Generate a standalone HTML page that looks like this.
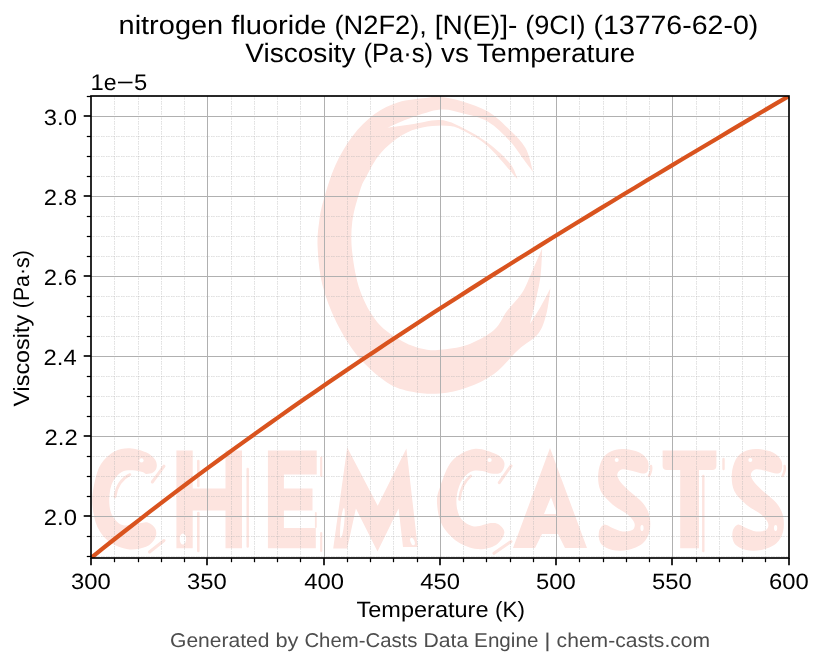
<!DOCTYPE html>
<html><head><meta charset="utf-8"><style>
html,body{margin:0;padding:0;background:#fff;}
svg{display:block;will-change:transform;text-rendering:geometricPrecision;}
</style></head><body>
<svg width="823" height="666" viewBox="0 0 823 666">
<rect width="823" height="666" fill="#fff"/>
<filter id="wmb" x="-5%" y="-5%" width="110%" height="110%"><feGaussianBlur stdDeviation="0.6"/></filter>
<g filter="url(#wmb)">
<g fill="#fde4df">
<path d="M533.1,172.0 C531.8,168.0 529.4,154.9 525.5,148.0 C521.6,141.1 516.2,136.4 510.0,130.3 C503.8,124.2 495.9,116.4 488.0,111.6 C480.1,106.8 470.4,103.8 462.5,101.4 C454.6,99.0 446.5,97.7 440.4,97.1 C434.3,96.5 432.7,97.2 425.7,98.0 C418.7,98.8 407.0,99.5 398.5,102.2 C390.0,104.9 382.3,108.4 374.6,114.1 C366.9,119.8 359.0,127.7 352.5,136.2 C346.0,144.7 340.3,154.5 335.5,165.1 C330.7,175.7 326.3,190.6 323.6,200.0 C320.9,209.4 320.2,213.7 319.2,221.5 C318.2,229.3 317.1,236.3 317.6,246.8 C318.1,257.3 319.2,272.0 322.3,284.6 C325.4,297.2 330.4,310.3 336.5,322.4 C342.6,334.5 350.2,347.1 358.6,357.1 C367.0,367.1 378.1,376.6 387.0,382.4 C395.9,388.2 403.4,389.9 412.2,391.8 C421.0,393.7 430.9,394.2 440.0,393.5 C449.1,392.8 458.0,390.9 467.0,387.6 C476.0,384.4 485.4,380.3 494.0,374.0 C502.6,367.7 511.1,356.4 518.4,349.7 C525.7,343.0 533.4,339.9 538.0,334.0 C542.6,328.1 544.2,322.0 546.3,314.3 C548.4,306.6 549.8,292.4 550.5,288.0 C548.9,291.0 544.5,299.9 541.0,306.0 C537.5,312.1 531.7,321.2 529.8,324.3 C530.6,321.0 533.0,312.4 534.8,304.4 C536.6,296.4 539.3,285.7 540.5,276.3 C541.7,266.9 541.9,252.9 542.2,248.2 C540.3,252.5 534.4,266.5 531.0,274.0 C527.6,281.5 526.0,286.8 522.0,293.0 C518.0,299.2 511.7,304.8 507.0,311.0 C502.3,317.2 500.7,324.3 494.0,330.0 C487.3,335.7 476.0,341.7 467.0,345.0 C458.0,348.3 447.0,349.0 440.0,349.7 C433.0,350.4 431.0,350.7 424.8,349.3 C418.6,347.9 410.7,345.9 402.8,341.4 C394.9,336.9 384.6,330.8 377.5,322.4 C370.4,314.0 364.4,302.6 360.2,291.0 C356.0,279.4 353.6,264.7 352.3,253.1 C351.0,241.5 351.0,232.0 352.3,221.5 C353.6,211.0 357.9,197.4 360.2,190.0 C362.5,182.6 363.1,182.6 366.1,177.0 C369.1,171.4 373.5,162.5 378.0,156.6 C382.5,150.7 387.6,145.7 393.3,141.3 C399.0,136.9 405.5,132.9 412.0,130.3 C418.5,127.8 426.2,126.7 432.5,126.0 C438.8,125.3 445.0,125.3 450.0,126.0 C455.0,126.7 456.2,126.9 462.5,130.3 C468.8,133.7 478.8,138.2 488.0,146.4 C497.2,154.6 512.8,174.1 517.8,179.6 C516.5,176.9 515.0,169.5 510.0,163.4 C505.0,157.3 495.9,148.9 488.0,143.0 C480.1,137.1 470.4,131.5 462.5,127.7 C454.6,123.9 448.8,120.7 440.4,120.1 C432.0,119.5 420.8,123.0 412.0,124.3 C403.2,125.6 391.5,127.1 387.4,127.7 C391.5,126.0 403.2,120.5 412.0,117.5 C420.8,114.5 432.0,110.2 440.4,109.5 C448.8,108.8 454.6,111.2 462.5,113.3 C470.4,115.3 480.1,117.1 488.0,121.8 C495.9,126.5 503.8,134.6 510.0,141.3 C516.2,148.0 521.6,156.9 525.5,162.0 C529.4,167.1 531.8,170.3 533.1,172.0 Z"/>
</g>
<g fill="#fde4df">
<path d="M146.0,473.9 C147.8,474.0 151.2,473.6 153.0,472.5 C154.8,471.4 156.4,469.2 156.7,467.0 C157.0,464.8 156.8,461.9 155.0,459.5 C153.2,457.1 150.2,454.2 146.0,452.3 C141.8,450.4 135.1,448.4 129.8,448.2 C124.6,448.0 119.3,448.8 114.5,451.4 C109.7,454.0 104.3,458.9 101.0,464.0 C97.7,469.1 96.2,475.4 94.7,482.0 C93.2,488.6 91.8,496.1 92.3,503.6 C92.8,511.1 94.5,520.5 97.4,527.0 C100.4,533.5 104.9,538.6 110.0,542.3 C115.1,546.0 122.0,548.5 128.0,549.3 C134.0,550.0 141.5,548.6 146.0,546.8 C150.5,545.0 153.4,541.5 155.0,538.5 C156.6,535.5 156.7,531.7 155.5,529.0 C154.3,526.3 150.6,523.4 147.8,522.5 C145.0,521.6 142.9,522.9 138.8,523.4 C134.8,523.9 127.5,526.0 123.5,525.2 C119.5,524.5 116.8,521.6 114.5,518.9 C112.2,516.2 110.8,513.0 110.0,509.0 C109.2,505.0 109.0,499.5 109.5,495.0 C110.0,490.5 110.7,485.8 112.7,482.0 C114.7,478.2 118.4,473.9 121.7,472.0 C125.0,470.1 129.1,470.3 132.5,470.3 C135.9,470.3 140.2,471.5 142.4,472.1 C144.7,472.7 144.2,473.8 146.0,473.9Z"/>
<path d="M474.0,449.0 C466.7,450.1 457.8,454.6 452.2,460.8 C446.6,467.0 442.9,479.0 440.4,486.0 C437.9,493.0 436.7,496.4 437.0,502.9 C437.3,509.3 438.6,518.3 442.0,524.7 C445.4,531.1 451.3,537.4 457.2,541.5 C463.1,545.6 470.9,548.5 477.4,549.1 C483.9,549.7 491.5,547.6 496.0,544.9 C500.5,542.2 503.8,536.5 504.3,533.1 C504.9,529.7 501.5,526.4 499.3,524.7 C497.1,523.0 495.1,522.7 490.9,523.0 C486.7,523.3 479.1,527.2 474.0,526.4 C468.9,525.6 463.5,522.2 460.6,518.0 C457.7,513.8 456.4,507.1 456.4,501.2 C456.4,495.3 458.2,487.6 460.6,482.7 C463.0,477.8 467.1,473.8 470.7,471.8 C474.3,469.8 479.1,470.6 482.5,470.9 C485.9,471.2 487.8,473.1 490.9,473.4 C494.0,473.7 498.8,474.4 501.0,472.6 C503.2,470.8 505.2,465.6 504.3,462.5 C503.4,459.4 500.9,456.4 495.9,454.1 C490.8,451.9 481.3,447.9 474.0,449.0Z"/>
<path d="M622.6,449.0 C627.4,449.1 635.2,450.4 639.4,452.4 C643.6,454.4 646.4,457.7 647.8,460.8 C649.2,463.9 648.6,468.8 647.8,470.9 C647.0,473.0 645.3,473.4 642.8,473.4 C640.3,473.4 636.1,471.6 632.7,470.9 C629.3,470.2 625.1,468.8 622.6,469.2 C620.1,469.6 618.1,471.6 617.5,473.4 C616.9,475.2 617.5,477.5 619.2,480.2 C620.9,482.9 623.7,485.6 627.6,489.4 C631.5,493.2 639.1,498.4 642.8,502.9 C646.4,507.4 648.4,511.5 649.5,516.3 C650.6,521.1 650.6,527.0 649.5,531.5 C648.4,536.0 646.4,540.1 642.8,543.2 C639.1,546.3 632.6,548.9 627.6,550.0 C622.6,551.1 617.0,551.1 612.5,550.0 C608.0,548.9 603.0,546.3 600.7,543.2 C598.5,540.1 598.4,534.6 599.0,531.5 C599.6,528.4 601.9,525.3 604.1,524.7 C606.4,524.1 609.4,527.0 612.5,528.1 C615.6,529.2 619.2,531.2 622.6,531.5 C626.0,531.8 630.7,531.2 632.7,529.8 C634.7,528.4 635.2,525.5 634.4,523.0 C633.5,520.5 631.2,517.7 627.6,514.6 C624.0,511.5 617.0,508.4 612.5,504.5 C608.0,500.6 603.1,496.1 600.7,491.1 C598.3,486.1 597.9,479.6 598.2,474.3 C598.5,469.0 600.3,462.9 602.4,459.1 C604.5,455.3 607.4,453.3 610.8,451.6 C614.2,449.9 617.8,448.9 622.6,449.0Z"/>
<path d="M756.2,449.0 C761.0,449.1 768.8,450.4 773.0,452.4 C777.2,454.4 780.0,457.7 781.4,460.8 C782.8,463.9 782.2,468.8 781.4,470.9 C780.6,473.0 778.9,473.4 776.4,473.4 C773.9,473.4 769.7,471.6 766.3,470.9 C762.9,470.2 758.7,468.8 756.2,469.2 C753.7,469.6 751.7,471.6 751.1,473.4 C750.5,475.2 751.1,477.5 752.8,480.2 C754.5,482.9 757.3,485.6 761.2,489.4 C765.1,493.2 772.8,498.4 776.4,502.9 C780.0,507.4 782.0,511.5 783.1,516.3 C784.2,521.1 784.2,527.0 783.1,531.5 C782.0,536.0 780.0,540.1 776.4,543.2 C772.8,546.3 766.2,548.9 761.2,550.0 C756.2,551.1 750.6,551.1 746.1,550.0 C741.6,548.9 736.6,546.3 734.3,543.2 C732.1,540.1 732.0,534.6 732.6,531.5 C733.2,528.4 735.5,525.3 737.7,524.7 C740.0,524.1 743.0,527.0 746.1,528.1 C749.2,529.2 752.8,531.2 756.2,531.5 C759.6,531.8 764.3,531.2 766.3,529.8 C768.3,528.4 768.9,525.5 768.0,523.0 C767.1,520.5 764.9,517.7 761.2,514.6 C757.6,511.5 750.6,508.4 746.1,504.5 C741.6,500.6 736.7,496.1 734.3,491.1 C731.9,486.1 731.5,479.6 731.8,474.3 C732.1,469.0 733.9,462.9 736.0,459.1 C738.1,455.3 741.0,453.3 744.4,451.6 C747.8,449.9 751.4,448.9 756.2,449.0Z"/>
</g>
<g fill="#fde4df">
<path d="M176.4,450.4 H192.7 V488.6 H225.5 V450.4 H242 V548.3 H225.5 V510.4 H192.7 V548.3 H176.4 Z"/>
<path d="M267.9,450.4 H316.7 V474.5 H283.9 V488.6 H312.5 V510.4 H283.9 V528 H315.8 V548.3 H267.9 Z"/>
<path d="M333.2,548.5 L347.2,447.5 L377.7,505.8 L406.4,448.4 L417.7,547 L403,547 L398.6,508.5 L377.5,551.5 L355.9,508.5 L347.2,548.5 Z"/>
<path fill-rule="evenodd" d="M513,548 L550,448 L587,548 L565,548 L558,534 L542,534 L535,548 Z M551,497 L544,514 L557,514 Z"/>
<path d="M662.6,450.4 H716.4 V466 Q716.4,470.1 712,470.1 H699 V548.3 H680.2 V470.1 H667 Q662.6,470.1 662.6,466 Z"/>
</g>
<g fill="none" stroke="#fde4df" stroke-linecap="round">
<path d="M198.3,461 V486" stroke-width="2.6"/>
<path d="M198.3,513 V551" stroke-width="2.6"/>
<path d="M247.7,469 V546.6" stroke-width="2.4"/>
<path d="M703.3,476 V551" stroke-width="2.4"/>
<path d="M723.5,459 V469" stroke-width="2.4"/>
<path d="M321.2,457.5 V476" stroke-width="2.2"/>
<path d="M315.8,513 V527" stroke-width="1.8"/>
<path d="M321.2,533 V551" stroke-width="2.2"/>
<path d="M152.3,482 L164,466.2" stroke-width="3"/>
<path d="M149.5,552 L164,540.5" stroke-width="3"/>
<path d="M499.3,482.7 L511,465.9" stroke-width="3"/>
<path d="M494,553.3 L511,541.5" stroke-width="3"/>
<path d="M115,497 Q117,481 130,474.5" stroke-width="2.6"/>
<path d="M459.5,499.5 Q461,484 470.7,476" stroke-width="2.6"/>
<path d="M649,476 Q652,470 651,466" stroke-width="2.5"/>
<path d="M782.6,476 Q785.6,470 784.6,466" stroke-width="2.5"/>
</g>
<g fill="#fff">
<circle cx="141.5" cy="460.4" r="2.1"/>
<circle cx="489.6" cy="460" r="2.1"/>
<ellipse cx="182.9" cy="539" rx="3.2" ry="5.5"/>
<ellipse cx="342.4" cy="523" rx="1.8" ry="15" transform="rotate(6 342.4 523)"/>
<ellipse cx="412.5" cy="541.5" rx="2" ry="4" transform="rotate(-20 412.5 541.5)"/>
<circle cx="616.7" cy="460" r="2"/>
<circle cx="750.3" cy="460" r="2"/>
<ellipse cx="642" cy="528" rx="1.6" ry="3"/>
<ellipse cx="775.6" cy="528" rx="1.6" ry="3"/>
</g>
</g>
<g stroke="#b0b0b0" stroke-opacity="0.4" stroke-width="1" stroke-dasharray="1.5 0.7 1.5 1.3" fill="none">
<line x1="114.5" y1="96" x2="114.5" y2="558"/>
<line x1="138.5" y1="96" x2="138.5" y2="558"/>
<line x1="161.5" y1="96" x2="161.5" y2="558"/>
<line x1="184.5" y1="96" x2="184.5" y2="558"/>
<line x1="231.5" y1="96" x2="231.5" y2="558"/>
<line x1="254.5" y1="96" x2="254.5" y2="558"/>
<line x1="277.5" y1="96" x2="277.5" y2="558"/>
<line x1="300.5" y1="96" x2="300.5" y2="558"/>
<line x1="347.5" y1="96" x2="347.5" y2="558"/>
<line x1="370.5" y1="96" x2="370.5" y2="558"/>
<line x1="393.5" y1="96" x2="393.5" y2="558"/>
<line x1="417.5" y1="96" x2="417.5" y2="558"/>
<line x1="463.5" y1="96" x2="463.5" y2="558"/>
<line x1="486.5" y1="96" x2="486.5" y2="558"/>
<line x1="510.5" y1="96" x2="510.5" y2="558"/>
<line x1="533.5" y1="96" x2="533.5" y2="558"/>
<line x1="579.5" y1="96" x2="579.5" y2="558"/>
<line x1="603.5" y1="96" x2="603.5" y2="558"/>
<line x1="626.5" y1="96" x2="626.5" y2="558"/>
<line x1="649.5" y1="96" x2="649.5" y2="558"/>
<line x1="696.5" y1="96" x2="696.5" y2="558"/>
<line x1="719.5" y1="96" x2="719.5" y2="558"/>
<line x1="742.5" y1="96" x2="742.5" y2="558"/>
<line x1="765.5" y1="96" x2="765.5" y2="558"/>
<line x1="91" y1="556.5" x2="789" y2="556.5"/>
<line x1="91" y1="536.5" x2="789" y2="536.5"/>
<line x1="91" y1="496.50000000000006" x2="789" y2="496.50000000000006"/>
<line x1="91" y1="476.49999999999994" x2="789" y2="476.49999999999994"/>
<line x1="91" y1="456.50000000000006" x2="789" y2="456.50000000000006"/>
<line x1="91" y1="416.5" x2="789" y2="416.5"/>
<line x1="91" y1="396.50000000000006" x2="789" y2="396.50000000000006"/>
<line x1="91" y1="376.49999999999994" x2="789" y2="376.49999999999994"/>
<line x1="91" y1="336.49999999999994" x2="789" y2="336.49999999999994"/>
<line x1="91" y1="316.5" x2="789" y2="316.5"/>
<line x1="91" y1="296.50000000000006" x2="789" y2="296.50000000000006"/>
<line x1="91" y1="256.5" x2="789" y2="256.5"/>
<line x1="91" y1="236.49999999999994" x2="789" y2="236.49999999999994"/>
<line x1="91" y1="216.5" x2="789" y2="216.5"/>
<line x1="91" y1="176.49999999999997" x2="789" y2="176.49999999999997"/>
<line x1="91" y1="156.50000000000003" x2="789" y2="156.50000000000003"/>
<line x1="91" y1="136.49999999999994" x2="789" y2="136.49999999999994"/>
<line x1="91" y1="96.50000000000007" x2="789" y2="96.50000000000007"/>
</g>
<g stroke="#b0b0b0" stroke-width="1" fill="none">
<line x1="207.5" y1="96" x2="207.5" y2="558"/>
<line x1="324.5" y1="96" x2="324.5" y2="558"/>
<line x1="440.5" y1="96" x2="440.5" y2="558"/>
<line x1="556.5" y1="96" x2="556.5" y2="558"/>
<line x1="672.5" y1="96" x2="672.5" y2="558"/>
<line x1="91" y1="116.5" x2="789" y2="116.5"/>
<line x1="91" y1="196.5" x2="789" y2="196.5"/>
<line x1="91" y1="276.5" x2="789" y2="276.5"/>
<line x1="91" y1="356.5" x2="789" y2="356.5"/>
<line x1="91" y1="436.5" x2="789" y2="436.5"/>
<line x1="91" y1="516.5" x2="789" y2="516.5"/>
</g>
<clipPath id="ax"><rect x="91" y="96" width="698" height="462"/></clipPath>
<path clip-path="url(#ax)" d="M91.00,558.00 L102.83,548.39 L114.66,539.02 L126.49,529.74 L138.32,520.54 L150.15,511.42 L161.98,502.37 L173.81,493.40 L185.64,484.50 L197.47,475.68 L209.31,466.93 L221.14,458.25 L232.97,449.64 L244.80,441.09 L256.63,432.61 L268.46,424.20 L280.29,415.85 L292.12,407.56 L303.95,399.33 L315.78,391.16 L327.61,383.04 L339.44,374.98 L351.27,366.98 L363.10,359.03 L374.93,351.13 L386.76,343.28 L398.59,335.48 L410.42,327.72 L422.25,320.02 L434.08,312.35 L445.92,304.73 L457.75,297.15 L469.58,289.61 L481.41,282.11 L493.24,274.64 L505.07,267.22 L516.90,259.82 L528.73,252.46 L540.56,245.13 L552.39,237.83 L564.22,230.55 L576.05,223.31 L587.88,216.09 L599.71,208.89 L611.54,201.72 L623.37,194.57 L635.20,187.43 L647.03,180.32 L658.86,173.22 L670.69,166.14 L682.53,159.07 L694.36,152.02 L706.19,144.98 L718.02,137.94 L729.85,130.92 L741.68,123.90 L753.51,116.88 L765.34,109.87 L777.17,102.87 L789.00,96.00" fill="none" stroke="#d9531e" stroke-width="4.2" stroke-linecap="butt" stroke-linejoin="round"/>
<rect x="91" y="96" width="698" height="462" fill="none" stroke="#000" stroke-width="1.67"/>
<g stroke="#000" fill="none">
<line x1="91" y1="558" x2="91" y2="565.3" stroke-width="1.67"/>
<line x1="207" y1="558" x2="207" y2="565.3" stroke-width="1.67"/>
<line x1="324" y1="558" x2="324" y2="565.3" stroke-width="1.67"/>
<line x1="440" y1="558" x2="440" y2="565.3" stroke-width="1.67"/>
<line x1="556" y1="558" x2="556" y2="565.3" stroke-width="1.67"/>
<line x1="672" y1="558" x2="672" y2="565.3" stroke-width="1.67"/>
<line x1="789" y1="558" x2="789" y2="565.3" stroke-width="1.67"/>
<line x1="114.5" y1="558" x2="114.5" y2="562.2" stroke-width="1.25"/>
<line x1="138.5" y1="558" x2="138.5" y2="562.2" stroke-width="1.25"/>
<line x1="161.5" y1="558" x2="161.5" y2="562.2" stroke-width="1.25"/>
<line x1="184.5" y1="558" x2="184.5" y2="562.2" stroke-width="1.25"/>
<line x1="231.5" y1="558" x2="231.5" y2="562.2" stroke-width="1.25"/>
<line x1="254.5" y1="558" x2="254.5" y2="562.2" stroke-width="1.25"/>
<line x1="277.5" y1="558" x2="277.5" y2="562.2" stroke-width="1.25"/>
<line x1="300.5" y1="558" x2="300.5" y2="562.2" stroke-width="1.25"/>
<line x1="347.5" y1="558" x2="347.5" y2="562.2" stroke-width="1.25"/>
<line x1="370.5" y1="558" x2="370.5" y2="562.2" stroke-width="1.25"/>
<line x1="393.5" y1="558" x2="393.5" y2="562.2" stroke-width="1.25"/>
<line x1="417.5" y1="558" x2="417.5" y2="562.2" stroke-width="1.25"/>
<line x1="463.5" y1="558" x2="463.5" y2="562.2" stroke-width="1.25"/>
<line x1="486.5" y1="558" x2="486.5" y2="562.2" stroke-width="1.25"/>
<line x1="510.5" y1="558" x2="510.5" y2="562.2" stroke-width="1.25"/>
<line x1="533.5" y1="558" x2="533.5" y2="562.2" stroke-width="1.25"/>
<line x1="579.5" y1="558" x2="579.5" y2="562.2" stroke-width="1.25"/>
<line x1="603.5" y1="558" x2="603.5" y2="562.2" stroke-width="1.25"/>
<line x1="626.5" y1="558" x2="626.5" y2="562.2" stroke-width="1.25"/>
<line x1="649.5" y1="558" x2="649.5" y2="562.2" stroke-width="1.25"/>
<line x1="696.5" y1="558" x2="696.5" y2="562.2" stroke-width="1.25"/>
<line x1="719.5" y1="558" x2="719.5" y2="562.2" stroke-width="1.25"/>
<line x1="742.5" y1="558" x2="742.5" y2="562.2" stroke-width="1.25"/>
<line x1="765.5" y1="558" x2="765.5" y2="562.2" stroke-width="1.25"/>
<line x1="91" y1="116" x2="83.7" y2="116" stroke-width="1.67"/>
<line x1="91" y1="196" x2="83.7" y2="196" stroke-width="1.67"/>
<line x1="91" y1="276" x2="83.7" y2="276" stroke-width="1.67"/>
<line x1="91" y1="356" x2="83.7" y2="356" stroke-width="1.67"/>
<line x1="91" y1="436" x2="83.7" y2="436" stroke-width="1.67"/>
<line x1="91" y1="516" x2="83.7" y2="516" stroke-width="1.67"/>
<line x1="91" y1="556.5" x2="86.8" y2="556.5" stroke-width="1.25"/>
<line x1="91" y1="536.5" x2="86.8" y2="536.5" stroke-width="1.25"/>
<line x1="91" y1="496.50000000000006" x2="86.8" y2="496.50000000000006" stroke-width="1.25"/>
<line x1="91" y1="476.49999999999994" x2="86.8" y2="476.49999999999994" stroke-width="1.25"/>
<line x1="91" y1="456.50000000000006" x2="86.8" y2="456.50000000000006" stroke-width="1.25"/>
<line x1="91" y1="416.5" x2="86.8" y2="416.5" stroke-width="1.25"/>
<line x1="91" y1="396.50000000000006" x2="86.8" y2="396.50000000000006" stroke-width="1.25"/>
<line x1="91" y1="376.49999999999994" x2="86.8" y2="376.49999999999994" stroke-width="1.25"/>
<line x1="91" y1="336.49999999999994" x2="86.8" y2="336.49999999999994" stroke-width="1.25"/>
<line x1="91" y1="316.5" x2="86.8" y2="316.5" stroke-width="1.25"/>
<line x1="91" y1="296.50000000000006" x2="86.8" y2="296.50000000000006" stroke-width="1.25"/>
<line x1="91" y1="256.5" x2="86.8" y2="256.5" stroke-width="1.25"/>
<line x1="91" y1="236.49999999999994" x2="86.8" y2="236.49999999999994" stroke-width="1.25"/>
<line x1="91" y1="216.5" x2="86.8" y2="216.5" stroke-width="1.25"/>
<line x1="91" y1="176.49999999999997" x2="86.8" y2="176.49999999999997" stroke-width="1.25"/>
<line x1="91" y1="156.50000000000003" x2="86.8" y2="156.50000000000003" stroke-width="1.25"/>
<line x1="91" y1="136.49999999999994" x2="86.8" y2="136.49999999999994" stroke-width="1.25"/>
<line x1="91" y1="96.50000000000007" x2="86.8" y2="96.50000000000007" stroke-width="1.25"/>
</g>
<g font-family="Liberation Sans, sans-serif" fill="#000">
<text x="118.53" y="33.9" font-size="26.5" textLength="104.71" lengthAdjust="spacingAndGlyphs">nitrogen</text>
<text x="231.19" y="33.9" font-size="26.5" textLength="95.36" lengthAdjust="spacingAndGlyphs">fluoride</text>
<text x="334.50" y="33.9" font-size="26.5" textLength="92.35" lengthAdjust="spacingAndGlyphs">(N2F2),</text>
<text x="434.79" y="33.9" font-size="26.5" textLength="82.53" lengthAdjust="spacingAndGlyphs">[N(E)]-</text>
<text x="525.27" y="33.9" font-size="26.5" textLength="60.24" lengthAdjust="spacingAndGlyphs">(9CI)</text>
<text x="593.46" y="33.9" font-size="26.5" textLength="164.79" lengthAdjust="spacingAndGlyphs">(13776-62-0)</text>
<text x="245.30" y="61.8" font-size="26.5" textLength="110.13" lengthAdjust="spacingAndGlyphs">Viscosity</text>
<text x="363.38" y="61.8" font-size="26.5" textLength="69.75" lengthAdjust="spacingAndGlyphs">(Pa·s)</text>
<text x="441.08" y="61.8" font-size="26.5" textLength="27.82" lengthAdjust="spacingAndGlyphs">vs</text>
<text x="476.85" y="61.8" font-size="26.5" textLength="158.36" lengthAdjust="spacingAndGlyphs">Temperature</text>
<text x="90.51" y="89.8" font-size="22.6" textLength="13.25" lengthAdjust="spacingAndGlyphs">1</text>
<text x="103.77" y="89.8" font-size="22.6" textLength="12.82" lengthAdjust="spacingAndGlyphs">e</text>
<text x="116.58" y="89.8" font-size="22.6" textLength="17.46" lengthAdjust="spacingAndGlyphs">−</text>
<text x="134.04" y="89.8" font-size="22.6" textLength="13.25" lengthAdjust="spacingAndGlyphs">5</text>
<text x="43.85" y="125.0" font-size="22.1" textLength="13.25" lengthAdjust="spacingAndGlyphs">3</text>
<text x="57.11" y="125.0" font-size="22.1" textLength="6.62" lengthAdjust="spacingAndGlyphs">.</text>
<text x="63.73" y="125.0" font-size="22.1" textLength="13.25" lengthAdjust="spacingAndGlyphs">0</text>
<text x="43.89" y="205.0" font-size="22.1" textLength="13.25" lengthAdjust="spacingAndGlyphs">2</text>
<text x="57.15" y="205.0" font-size="22.1" textLength="6.62" lengthAdjust="spacingAndGlyphs">.</text>
<text x="63.77" y="205.0" font-size="22.1" textLength="13.25" lengthAdjust="spacingAndGlyphs">8</text>
<text x="43.78" y="285.0" font-size="22.1" textLength="13.25" lengthAdjust="spacingAndGlyphs">2</text>
<text x="57.04" y="285.0" font-size="22.1" textLength="6.62" lengthAdjust="spacingAndGlyphs">.</text>
<text x="63.66" y="285.0" font-size="22.1" textLength="13.25" lengthAdjust="spacingAndGlyphs">6</text>
<text x="43.64" y="365.0" font-size="22.1" textLength="13.25" lengthAdjust="spacingAndGlyphs">2</text>
<text x="56.89" y="365.0" font-size="22.1" textLength="6.62" lengthAdjust="spacingAndGlyphs">.</text>
<text x="63.52" y="365.0" font-size="22.1" textLength="13.25" lengthAdjust="spacingAndGlyphs">4</text>
<text x="44.55" y="445.0" font-size="22.1" textLength="13.25" lengthAdjust="spacingAndGlyphs">2</text>
<text x="57.81" y="445.0" font-size="22.1" textLength="6.62" lengthAdjust="spacingAndGlyphs">.</text>
<text x="64.43" y="445.0" font-size="22.1" textLength="13.25" lengthAdjust="spacingAndGlyphs">2</text>
<text x="43.85" y="525.0" font-size="22.1" textLength="13.25" lengthAdjust="spacingAndGlyphs">2</text>
<text x="57.11" y="525.0" font-size="22.1" textLength="6.62" lengthAdjust="spacingAndGlyphs">.</text>
<text x="63.73" y="525.0" font-size="22.1" textLength="13.25" lengthAdjust="spacingAndGlyphs">0</text>
<text x="71.02" y="589.0" font-size="22.1" textLength="13.25" lengthAdjust="spacingAndGlyphs">3</text>
<text x="84.27" y="589.0" font-size="22.1" textLength="13.25" lengthAdjust="spacingAndGlyphs">0</text>
<text x="97.53" y="589.0" font-size="22.1" textLength="13.25" lengthAdjust="spacingAndGlyphs">0</text>
<text x="187.02" y="589.0" font-size="22.1" textLength="13.25" lengthAdjust="spacingAndGlyphs">3</text>
<text x="200.27" y="589.0" font-size="22.1" textLength="13.25" lengthAdjust="spacingAndGlyphs">5</text>
<text x="213.53" y="589.0" font-size="22.1" textLength="13.25" lengthAdjust="spacingAndGlyphs">0</text>
<text x="304.30" y="589.0" font-size="22.1" textLength="13.25" lengthAdjust="spacingAndGlyphs">4</text>
<text x="317.56" y="589.0" font-size="22.1" textLength="13.25" lengthAdjust="spacingAndGlyphs">0</text>
<text x="330.81" y="589.0" font-size="22.1" textLength="13.25" lengthAdjust="spacingAndGlyphs">0</text>
<text x="420.30" y="589.0" font-size="22.1" textLength="13.25" lengthAdjust="spacingAndGlyphs">4</text>
<text x="433.56" y="589.0" font-size="22.1" textLength="13.25" lengthAdjust="spacingAndGlyphs">5</text>
<text x="446.81" y="589.0" font-size="22.1" textLength="13.25" lengthAdjust="spacingAndGlyphs">0</text>
<text x="536.01" y="589.0" font-size="22.1" textLength="13.25" lengthAdjust="spacingAndGlyphs">5</text>
<text x="549.26" y="589.0" font-size="22.1" textLength="13.25" lengthAdjust="spacingAndGlyphs">0</text>
<text x="562.52" y="589.0" font-size="22.1" textLength="13.25" lengthAdjust="spacingAndGlyphs">0</text>
<text x="652.01" y="589.0" font-size="22.1" textLength="13.25" lengthAdjust="spacingAndGlyphs">5</text>
<text x="665.26" y="589.0" font-size="22.1" textLength="13.25" lengthAdjust="spacingAndGlyphs">5</text>
<text x="678.52" y="589.0" font-size="22.1" textLength="13.25" lengthAdjust="spacingAndGlyphs">0</text>
<text x="769.08" y="589.0" font-size="22.1" textLength="13.25" lengthAdjust="spacingAndGlyphs">6</text>
<text x="782.34" y="589.0" font-size="22.1" textLength="13.25" lengthAdjust="spacingAndGlyphs">0</text>
<text x="795.59" y="589.0" font-size="22.1" textLength="13.25" lengthAdjust="spacingAndGlyphs">0</text>
<text x="356.51" y="616.7" font-size="22.1" textLength="131.97" lengthAdjust="spacingAndGlyphs">Temperature</text>
<text x="495.10" y="616.7" font-size="22.1" textLength="29.92" lengthAdjust="spacingAndGlyphs">(K)</text>
<g transform="translate(29.3,406.45) rotate(-90)">
<text x="-0.16" y="0" font-size="22.1" textLength="91.78" lengthAdjust="spacingAndGlyphs">Viscosity</text>
<text x="98.23" y="0" font-size="22.1" textLength="58.12" lengthAdjust="spacingAndGlyphs">(Pa·s)</text>
</g>
</g>
<g font-family="Liberation Sans, sans-serif" fill="#4d4d4d">
<text x="170.05" y="646.9" font-size="19.9" textLength="99.47" lengthAdjust="spacingAndGlyphs">Generated</text>
<text x="275.48" y="646.9" font-size="19.9" textLength="23.00" lengthAdjust="spacingAndGlyphs">by</text>
<text x="304.44" y="646.9" font-size="19.9" textLength="113.01" lengthAdjust="spacingAndGlyphs">Chem-Casts</text>
<text x="423.41" y="646.9" font-size="19.9" textLength="44.77" lengthAdjust="spacingAndGlyphs">Data</text>
<text x="474.14" y="646.9" font-size="19.9" textLength="64.26" lengthAdjust="spacingAndGlyphs">Engine</text>
<text x="544.36" y="646.9" font-size="19.9" textLength="6.32" lengthAdjust="spacingAndGlyphs">|</text>
<text x="556.64" y="646.9" font-size="19.9" textLength="153.45" lengthAdjust="spacingAndGlyphs">chem-casts.com</text>
</g>
</svg></body></html>
